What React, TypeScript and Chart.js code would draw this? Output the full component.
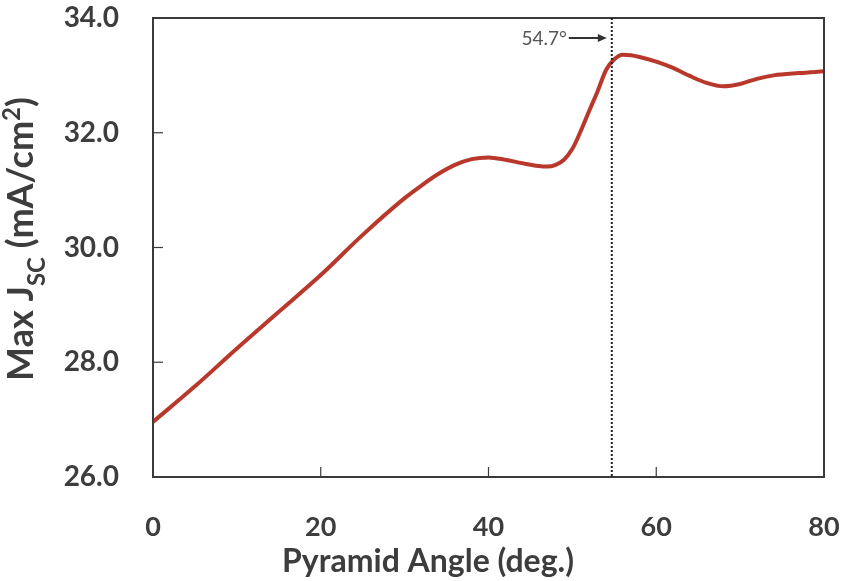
import React, { useEffect, useRef } from 'react';
import { Chart, registerables } from 'chart.js';
Chart.register(...registerables);

const angles = [0, 5, 10, 15, 20, 25, 30, 32, 34, 36, 38, 40, 42, 44, 46, 47, 48, 49, 50, 51, 52, 53, 54, 55, 56, 57, 58, 60, 62, 64, 66, 68, 70, 72, 74, 77, 80];
const maxJsc = [26.96, 27.58, 28.24, 28.88, 29.52, 30.22, 30.86, 31.08, 31.28, 31.44, 31.54, 31.57, 31.53, 31.47, 31.42, 31.41, 31.44, 31.53, 31.72, 32.03, 32.38, 32.72, 33.09, 33.28, 33.36, 33.35, 33.32, 33.24, 33.13, 32.99, 32.87, 32.81, 32.85, 32.94, 33.00, 33.04, 33.07];
const xTicks = [0, 20, 40, 60, 80];
const yTicks = [26, 28, 30, 32, 34];
const markerAngle = 54.7;
const markerLabel = '54.7°';
const xTitle = 'Pyramid Angle (deg.)';

const TEXT = '#3d3d3d';
const AXIS = '#3a3a3a';
const FONT = 'Lato, "Open Sans", sans-serif';

const decorPlugin = {
  id: 'decor',
  afterDraw(chart: any) {
    const { ctx, chartArea, scales } = chart;
    const { left, right, top, bottom } = chartArea;
    const xs = scales.x;
    const ys = scales.y;
    ctx.save();
    // frame
    ctx.strokeStyle = AXIS;
    ctx.lineWidth = 2;
    ctx.strokeRect(left, top, right - left, bottom - top);
    // inner ticks
    ctx.lineWidth = 1.2;
    xTicks.forEach((v) => {
      const px = xs.getPixelForValue(v);
      if (Math.abs(px - left) < 2 || Math.abs(px - right) < 2) return;
      ctx.beginPath();
      ctx.moveTo(px, bottom);
      ctx.lineTo(px, bottom - 10);
      ctx.stroke();
    });
    yTicks.forEach((v) => {
      const py = ys.getPixelForValue(v);
      if (Math.abs(py - top) < 2 || Math.abs(py - bottom) < 2) return;
      ctx.beginPath();
      ctx.moveTo(left, py);
      ctx.lineTo(left + 10, py);
      ctx.stroke();
    });
    // dotted marker line
    const mx = xs.getPixelForValue(markerAngle);
    ctx.strokeStyle = '#222';
    ctx.lineWidth = 2;
    ctx.setLineDash([2, 2]);
    ctx.beginPath();
    ctx.moveTo(mx, top);
    ctx.lineTo(mx, bottom);
    ctx.stroke();
    ctx.setLineDash([]);
    // annotation label + arrow
    const ay = top + 20;
    ctx.fillStyle = '#555';
    ctx.font = `19px ${FONT}`;
    ctx.textAlign = 'right';
    ctx.textBaseline = 'middle';
    ctx.fillText(markerLabel, mx - 45, ay + 1);
    ctx.strokeStyle = '#333';
    ctx.lineWidth = 1.8;
    ctx.beginPath();
    ctx.moveTo(mx - 43, ay);
    ctx.lineTo(mx - 10, ay);
    ctx.stroke();
    ctx.fillStyle = '#333';
    ctx.beginPath();
    ctx.moveTo(mx - 5, ay);
    ctx.lineTo(mx - 14, ay - 4);
    ctx.lineTo(mx - 14, ay + 4);
    ctx.closePath();
    ctx.fill();
    // x title
    ctx.fillStyle = TEXT;
    ctx.font = `bold 32px ${FONT}`;
    ctx.textAlign = 'center';
    ctx.textBaseline = 'alphabetic';
    ctx.fillText(xTitle, left + 275, bottom + 95);
    // y title with subscript / superscript
    ctx.translate(33, top + 221);
    ctx.rotate(-Math.PI / 2);
    ctx.textAlign = 'left';
    const big = `bold 36px ${FONT}`;
    const small = `bold 24px ${FONT}`;
    const parts: [string, string, number][] = [
      ['Max J', big, 0],
      ['SC', small, 12],
      [' (mA/cm', big, 0],
      ['2', small, -13],
      [')', big, 0],
    ];
    let total = 0;
    parts.forEach(([t, f]) => {
      ctx.font = f;
      total += ctx.measureText(t).width;
    });
    let x = -total / 2;
    parts.forEach(([t, f, dy]) => {
      ctx.font = f;
      ctx.fillText(t, x, dy);
      x += ctx.measureText(t).width;
    });
    ctx.restore();
  },
};

export default function App() {
  const ref = useRef<HTMLCanvasElement | null>(null);
  useEffect(() => {
    if (!ref.current) return;
    const chart = new Chart(ref.current, {
      type: 'line',
      data: {
        datasets: [
          {
            data: angles.map((a, i) => ({ x: a, y: maxJsc[i] })),
            borderColor: '#b8392b',
            borderWidth: 4,
            pointRadius: 0,
            cubicInterpolationMode: 'monotone',
            fill: false,
          },
        ],
      },
      options: {
        animation: false,
        responsive: false,
        maintainAspectRatio: false,
        layout: { padding: { top: 18, right: 20, left: 0, bottom: 0 } },
        plugins: { legend: { display: false }, tooltip: { enabled: false } },
        scales: {
          x: {
            type: 'linear',
            min: 0,
            max: 80,
            afterBuildTicks: (s: any) => {
              s.ticks = xTicks.map((v) => ({ value: v }));
            },
            ticks: {
              color: TEXT,
              font: { family: FONT, size: 27, weight: 'bold' },
              padding: 34,
              maxRotation: 0,
              callback: (v: any) => String(v),
            },
            grid: { display: false, drawTicks: false },
            border: { display: false },
            afterFit: (s: any) => {
              s.height = 104;
              s.paddingLeft = 0;
              s.paddingRight = 0;
            },
          },
          y: {
            type: 'linear',
            min: 26,
            max: 34,
            afterBuildTicks: (s: any) => {
              s.ticks = yTicks.map((v) => ({ value: v }));
            },
            ticks: {
              color: TEXT,
              font: { family: FONT, size: 28, weight: 'bold' },
              padding: 34,
              callback: (v: any) => Number(v).toFixed(1),
            },
            grid: { display: false, drawTicks: false },
            border: { display: false },
            afterFit: (s: any) => {
              s.width = 153;
              s.paddingTop = 0;
              s.paddingBottom = 0;
            },
          },
        },
      },
      plugins: [decorPlugin],
    } as any);
    return () => chart.destroy();
  }, []);
  return (
    <div style={{ position: 'fixed', left: 0, top: 0, width: 844, height: 581, background: '#fff' }}>
      <canvas ref={ref} width={844} height={581} style={{ width: 844, height: 581 }} />
    </div>
  );
}
